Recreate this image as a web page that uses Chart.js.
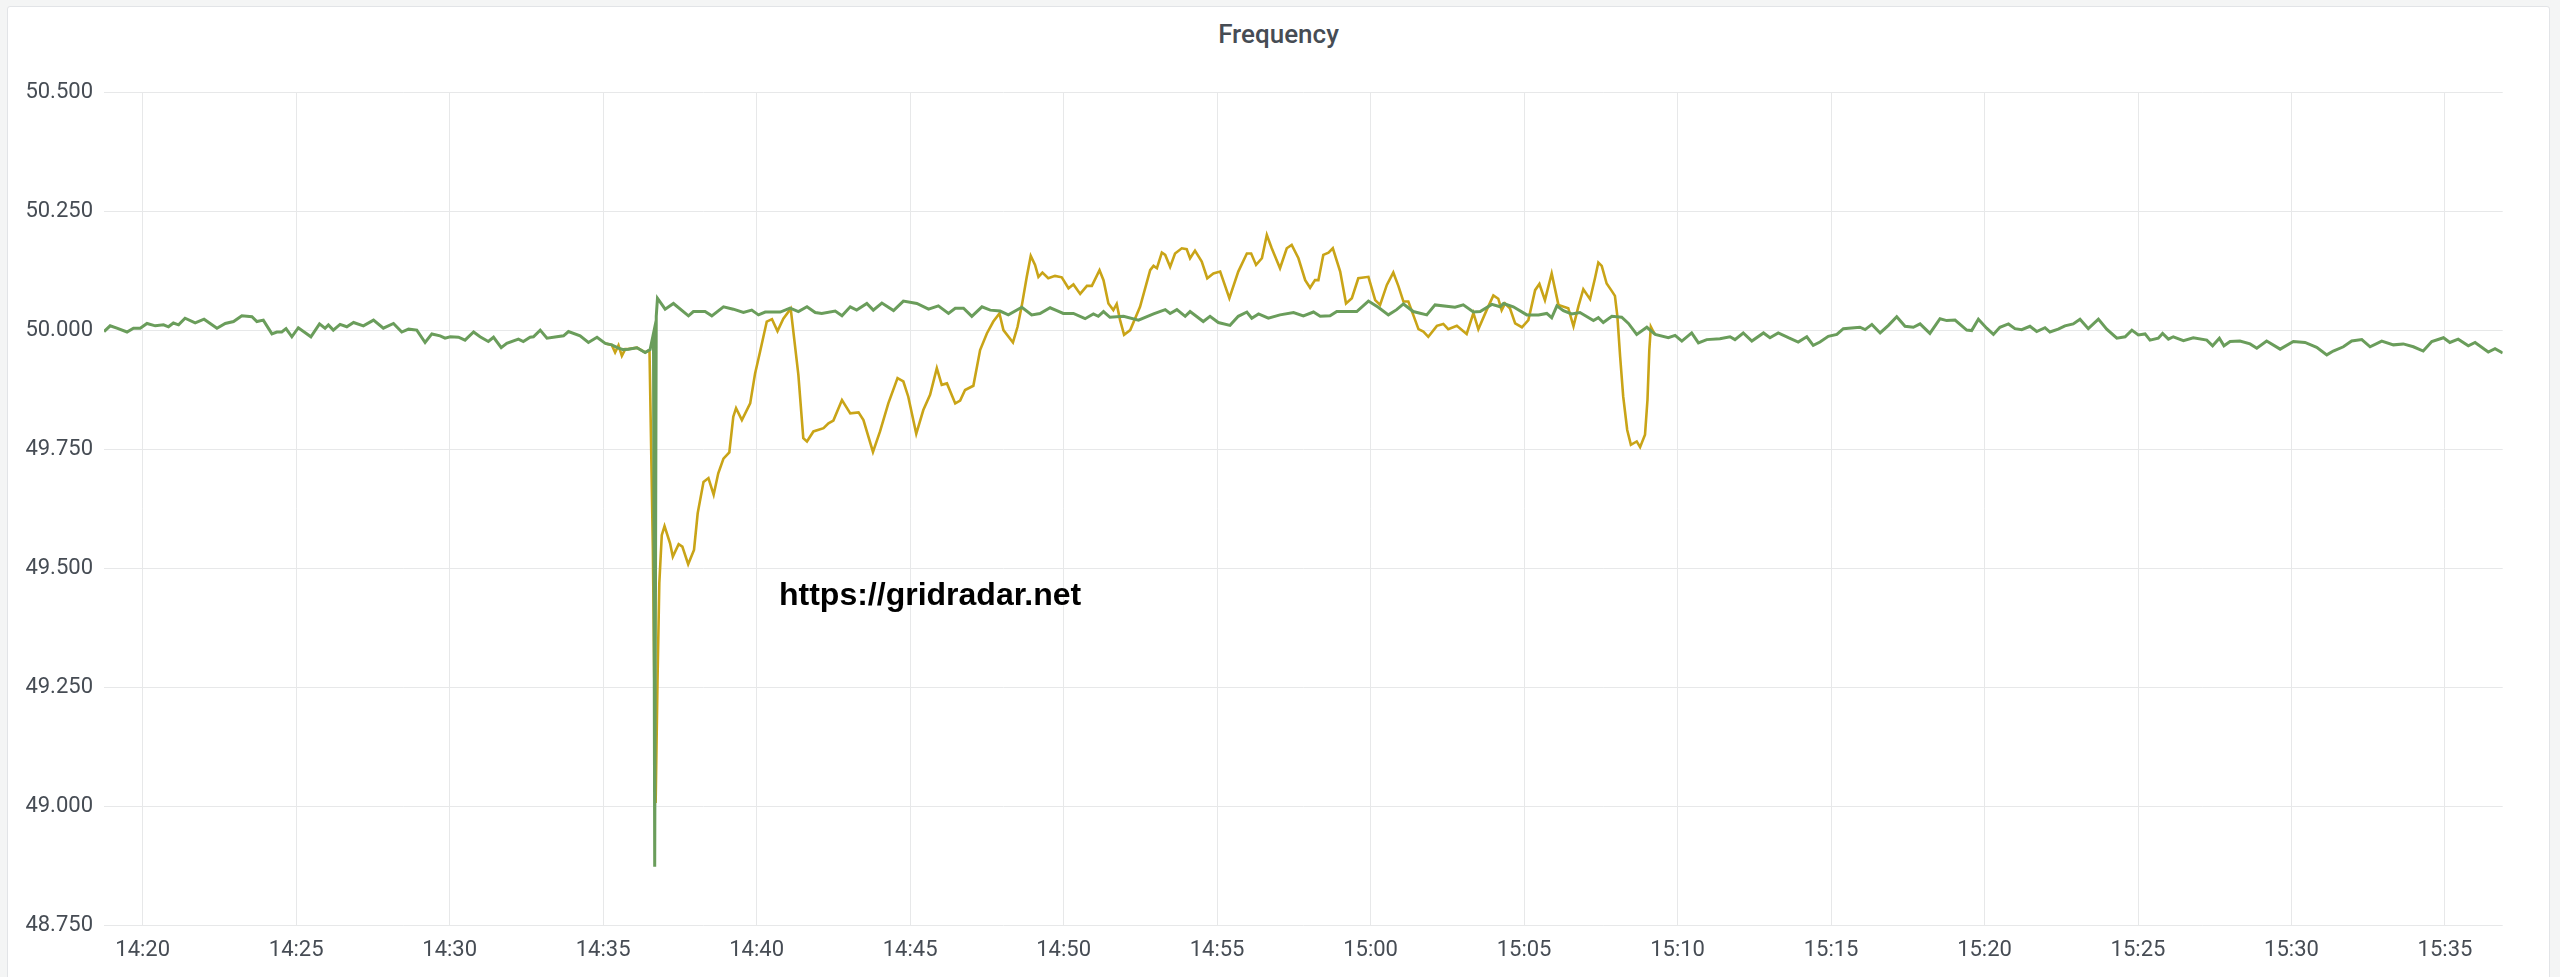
<!DOCTYPE html>
<html>
<head>
<meta charset="utf-8">
<title>Frequency</title>
<script src="https://cdn.jsdelivr.net/npm/chart.js@4.4.1/dist/chart.umd.min.js"></script>
<style>
  html, body { margin: 0; padding: 0; width: 2560px; height: 977px; overflow: hidden; background: #f4f5f5; }
  .panel { position: absolute; left: 7px; top: 6px; width: 2543px; height: 1010px; background: #fff;
           border: 1px solid #e2e4e7; border-radius: 3px; box-sizing: border-box; }
  .panel-title { position: absolute; left: 7px; width: 2543px; top: 21px; line-height: 26px; text-align: center;
                 font-family: Roboto, "Noto Sans", sans-serif; font-size: 26px; font-weight: 500; color: #464c54; }
  #wrap { position: absolute; left: 0; top: 0; width: 2560px; height: 977px; }
</style>
</head>
<body>
<div class="panel"></div>
<div class="panel-title">Frequency</div>
<div id="wrap"><canvas id="freqChart"></canvas></div>
<script>
  // time = minutes after 14:00, values in Hz
  const greenMinutes = [
    18.74, 18.94, 19.16, 19.49, 19.70, 19.92, 20.14, 20.41, 20.68, 20.84,
    21.00, 21.17, 21.38, 21.71, 22.00, 22.42, 22.69, 22.96, 23.23, 23.56,
    23.72, 23.93, 24.21, 24.37, 24.53, 24.67, 24.86, 25.07, 25.48, 25.76,
    25.94, 26.05, 26.21, 26.43, 26.65, 26.87, 27.19, 27.52, 27.84, 28.17,
    28.44, 28.66, 28.93, 29.20, 29.42, 29.69, 29.85, 30.02, 30.29, 30.50,
    30.78, 30.99, 31.26, 31.43, 31.68, 31.86, 32.24, 32.40, 32.62, 32.73,
    32.95, 33.17, 33.49, 33.71, 33.87, 34.25, 34.52, 34.80, 35.07, 35.28,
    35.50, 35.66, 35.82, 36.10, 36.37, 36.53, 36.64, 36.68, 36.73, 36.77,
    37.02, 37.29, 37.78, 37.94, 38.32, 38.54, 38.92, 39.24, 39.57, 39.84,
    40.06, 40.28, 40.77, 41.09, 41.36, 41.64, 41.91, 42.12, 42.56, 42.78,
    43.05, 43.26, 43.59, 43.80, 44.08, 44.46, 44.78, 45.22, 45.60, 45.92,
    46.25, 46.47, 46.74, 47.01, 47.34, 47.61, 47.93, 48.20, 48.64, 48.96,
    49.23, 49.56, 49.78, 49.99, 50.32, 50.70, 50.97, 51.13, 51.30, 51.51,
    51.95, 52.44, 52.93, 53.31, 53.47, 53.69, 53.96, 54.12, 54.55, 54.77,
    55.04, 55.42, 55.69, 55.97, 56.13, 56.35, 56.67, 57.05, 57.49, 57.81,
    58.14, 58.36, 58.68, 58.90, 59.55, 59.93, 60.25, 60.58, 60.85, 61.07,
    61.39, 61.83, 62.10, 62.75, 63.02, 63.35, 63.57, 63.95, 64.22, 64.33,
    64.65, 65.09, 65.47, 65.74, 65.90, 66.07, 66.28, 66.55, 66.82, 67.26,
    67.42, 67.58, 67.86, 68.18, 68.40, 68.67, 69.00, 69.27, 69.70, 69.92,
    70.14, 70.46, 70.68, 70.95, 71.38, 71.71, 71.87, 72.14, 72.42, 72.80,
    73.01, 73.28, 73.61, 73.93, 74.21, 74.42, 74.64, 74.91, 75.19, 75.40,
    75.94, 76.11, 76.33, 76.60, 76.87, 77.14, 77.41, 77.68, 77.90, 78.22,
    78.55, 78.77, 79.04, 79.42, 79.58, 79.80, 80.07, 80.29, 80.50, 80.78,
    80.99, 81.21, 81.48, 81.70, 81.97, 82.13, 82.40, 82.62, 82.89, 83.11,
    83.38, 83.71, 83.98, 84.31, 84.58, 84.80, 85.01, 85.23, 85.39, 85.66,
    85.80, 85.99, 86.15, 86.48, 86.80, 87.24, 87.43, 87.65, 87.80, 88.00,
    88.32, 88.65, 88.87, 89.19, 89.63, 90.06, 90.44, 90.82, 91.15, 91.36,
    91.69, 91.96, 92.29, 92.56, 92.94, 93.32, 93.64, 93.97, 94.29, 94.57,
    94.95, 95.16, 95.43, 95.76, 95.98, 96.41, 96.63, 96.88
  ];
  const greenHz = [
    49.998, 50.010, 50.005, 49.997, 50.005, 50.005, 50.015, 50.010, 50.012, 50.008,
    50.016, 50.012, 50.026, 50.016, 50.024, 50.005, 50.015, 50.019, 50.031, 50.029,
    50.019, 50.022, 49.993, 49.997, 49.997, 50.004, 49.987, 50.006, 49.987, 50.014,
    50.005, 50.012, 50.001, 50.013, 50.008, 50.017, 50.010, 50.022, 50.005, 50.015,
    49.997, 50.003, 50.001, 49.975, 49.993, 49.989, 49.984, 49.987, 49.986, 49.980,
    49.997, 49.987, 49.977, 49.986, 49.964, 49.973, 49.982, 49.977, 49.986, 49.987,
    50.001, 49.984, 49.987, 49.989, 49.998, 49.989, 49.975, 49.986, 49.973, 49.970,
    49.963, 49.960, 49.961, 49.964, 49.954, 49.960, 49.994, 48.873, 50.030, 50.068,
    50.045, 50.057, 50.031, 50.040, 50.040, 50.031, 50.050, 50.045, 50.038, 50.043,
    50.033, 50.039, 50.039, 50.047, 50.040, 50.050, 50.038, 50.036, 50.041, 50.031,
    50.050, 50.043, 50.057, 50.043, 50.058, 50.042, 50.062, 50.057, 50.045, 50.052,
    50.036, 50.047, 50.047, 50.030, 50.050, 50.043, 50.041, 50.033, 50.049, 50.033,
    50.036, 50.048, 50.042, 50.036, 50.036, 50.025, 50.035, 50.030, 50.040, 50.028,
    50.030, 50.022, 50.035, 50.044, 50.036, 50.044, 50.030, 50.040, 50.019, 50.030,
    50.017, 50.011, 50.030, 50.039, 50.026, 50.035, 50.026, 50.033, 50.038, 50.031,
    50.039, 50.030, 50.031, 50.040, 50.040, 50.062, 50.049, 50.033, 50.044, 50.056,
    50.040, 50.033, 50.054, 50.049, 50.054, 50.039, 50.040, 50.055, 50.050, 50.057,
    50.050, 50.033, 50.033, 50.036, 50.027, 50.052, 50.042, 50.035, 50.038, 50.021,
    50.027, 50.017, 50.030, 50.028, 50.015, 49.992, 50.007, 49.992, 49.985, 49.990,
    49.978, 49.995, 49.974, 49.981, 49.983, 49.987, 49.981, 49.995, 49.978, 49.995,
    49.985, 49.995, 49.985, 49.976, 49.987, 49.969, 49.976, 49.988, 49.992, 50.004,
    50.007, 50.002, 50.013, 49.995, 50.011, 50.029, 50.009, 50.007, 50.014, 49.994,
    50.025, 50.021, 50.022, 50.001, 50.000, 50.024, 50.005, 49.992, 50.007, 50.014,
    50.004, 50.002, 50.009, 49.998, 50.006, 49.997, 50.003, 50.010, 50.014, 50.024,
    50.004, 50.024, 50.003, 49.984, 49.987, 50.001, 49.991, 49.993, 49.980, 49.984,
    49.994, 49.982, 49.987, 49.979, 49.985, 49.980, 49.968, 49.984, 49.968, 49.977,
    49.978, 49.972, 49.963, 49.978, 49.961, 49.977, 49.975, 49.965, 49.949, 49.957,
    49.966, 49.978, 49.981, 49.966, 49.978, 49.970, 49.972, 49.966, 49.957, 49.977,
    49.985, 49.975, 49.982, 49.968, 49.975, 49.955, 49.962, 49.953
  ];

  const yellowMinutes = [
    35.07, 35.28, 35.39, 35.50, 35.61, 35.72, 35.82, 36.10, 36.37, 36.51,
    36.62, 36.71, 36.77, 36.83, 36.91, 37.00, 37.18, 37.27, 37.46, 37.58,
    37.77, 37.96, 38.08, 38.27, 38.43, 38.60, 38.75, 38.92, 39.11, 39.24,
    39.33, 39.52, 39.79, 39.95, 40.11, 40.33, 40.50, 40.68, 40.87, 41.11,
    41.36, 41.52, 41.64, 41.85, 42.18, 42.34, 42.50, 42.78, 43.05, 43.32,
    43.48, 43.79, 44.02, 44.29, 44.59, 44.78, 44.94, 45.20, 45.43, 45.65,
    45.87, 46.03, 46.20, 46.47, 46.63, 46.79, 47.06, 47.28, 47.50, 47.71,
    47.91, 48.04, 48.35, 48.50, 48.64, 48.80, 48.93, 49.07, 49.18, 49.31,
    49.50, 49.72, 49.94, 50.16, 50.32, 50.54, 50.76, 50.92, 51.17, 51.30,
    51.46, 51.62, 51.73, 51.84, 51.97, 52.17, 52.49, 52.82, 52.93, 53.04,
    53.20, 53.31, 53.47, 53.63, 53.85, 54.01, 54.12, 54.28, 54.50, 54.68,
    54.88, 55.10, 55.40, 55.69, 55.97, 56.11, 56.27, 56.46, 56.62, 56.78,
    57.05, 57.27, 57.43, 57.65, 57.87, 58.03, 58.19, 58.30, 58.46, 58.63,
    58.77, 59.01, 59.20, 59.39, 59.60, 59.93, 60.15, 60.31, 60.53, 60.74,
    60.91, 61.07, 61.23, 61.39, 61.56, 61.72, 61.88, 62.16, 62.37, 62.53,
    62.81, 63.13, 63.35, 63.51, 63.78, 64.00, 64.16, 64.27, 64.38, 64.54,
    64.71, 64.93, 65.14, 65.36, 65.50, 65.68, 65.90, 66.12, 66.44, 66.61,
    66.77, 66.93, 67.15, 67.31, 67.42, 67.53, 67.69, 67.86, 67.96, 68.04,
    68.13, 68.23, 68.36, 68.48, 68.67, 68.78, 68.94, 69.02, 69.08, 69.13,
    69.21, 69.27
  ];
  const yellowHz = [
    49.973, 49.970, 49.954, 49.969, 49.947, 49.961, 49.961, 49.964, 49.954, 49.959,
    49.540, 49.007, 49.260, 49.469, 49.570, 49.589, 49.553, 49.525, 49.551, 49.546,
    49.509, 49.539, 49.616, 49.682, 49.690, 49.655, 49.700, 49.731, 49.744, 49.819,
    49.837, 49.812, 49.847, 49.910, 49.955, 50.019, 50.024, 49.999, 50.025, 50.046,
    49.907, 49.774, 49.767, 49.788, 49.795, 49.805, 49.811, 49.854, 49.826, 49.828,
    49.812, 49.745, 49.788, 49.847, 49.900, 49.893, 49.861, 49.783, 49.833, 49.865,
    49.921, 49.886, 49.889, 49.847, 49.853, 49.875, 49.884, 49.959, 49.994, 50.019,
    50.036, 50.001, 49.975, 50.008, 50.053, 50.113, 50.157, 50.138, 50.113, 50.122,
    50.110, 50.115, 50.112, 50.089, 50.097, 50.077, 50.094, 50.094, 50.127, 50.106,
    50.057, 50.043, 50.056, 50.022, 49.991, 50.001, 50.050, 50.127, 50.136, 50.131,
    50.164, 50.159, 50.134, 50.162, 50.173, 50.171, 50.152, 50.168, 50.145, 50.110,
    50.120, 50.124, 50.068, 50.124, 50.162, 50.162, 50.138, 50.152, 50.201, 50.173,
    50.131, 50.173, 50.180, 50.152, 50.106, 50.090, 50.106, 50.106, 50.159, 50.164,
    50.173, 50.124, 50.057, 50.068, 50.110, 50.113, 50.064, 50.054, 50.096, 50.122,
    50.093, 50.061, 50.061, 50.033, 50.003, 49.998, 49.987, 50.010, 50.014, 50.003,
    50.010, 49.993, 50.037, 50.003, 50.043, 50.074, 50.067, 50.043, 50.057, 50.047,
    50.015, 50.007, 50.022, 50.085, 50.098, 50.064, 50.120, 50.054, 50.047, 50.009,
    50.051, 50.087, 50.066, 50.110, 50.143, 50.136, 50.099, 50.083, 50.073, 50.030,
    49.945, 49.861, 49.791, 49.760, 49.767, 49.755, 49.781, 49.854, 49.959, 50.008,
    49.998, 49.992
  ];

  const xTickMinutes = [20, 25, 30, 35, 40, 45, 50, 55, 60, 65, 70, 75, 80, 85, 90, 95];
  const yTickValues = [48.75, 49.0, 49.25, 49.5, 49.75, 50.0, 50.25, 50.5];
  const watermarkText = "https://gridradar.net";

  const toPoints = (xs, ys) => xs.map((x, i) => ({ x: x, y: ys[i] }));

  const minuteLabel = (v) => {
    const m = Math.round(v);
    return (14 + Math.floor(m / 60)) + ":" + String(m % 60).padStart(2, "0");
  };

  // site watermark drawn over the lines
  const watermark = {
    id: "watermark",
    afterDatasetsDraw(chart) {
      const ctx = chart.ctx;
      ctx.save();
      ctx.font = 'bold 32px "Liberation Sans", Arial, sans-serif';
      ctx.fillStyle = "#000";
      ctx.textBaseline = "alphabetic";
      ctx.fillText(watermarkText, 779, 605, 308);
      ctx.restore();
    }
  };

  const tickFont = { family: "Roboto, 'Noto Sans', sans-serif", size: 22 };
  const gridColor = "#e7e8e9";

  new Chart(document.getElementById("freqChart"), {
    type: "line",
    data: {
      datasets: [
        {
          label: "Frequency",
          data: toPoints(greenMinutes, greenHz),
          borderColor: "#6a9d5b",
          borderWidth: 3,
          pointRadius: 0,
          tension: 0,
          fill: false,
        },
        {
          label: "Frequency (local)",
          data: toPoints(yellowMinutes, yellowHz),
          borderColor: "#c9a417",
          borderWidth: 2.6,
          pointRadius: 0,
          tension: 0,
          fill: false,
        },
      ],
    },
    options: {
      responsive: true,
      maintainAspectRatio: false,
      animation: false,
      layout: { padding: { top: 92.7, right: 57.3, left: 0, bottom: 0 } },
      plugins: {
        legend: { display: false },
        tooltip: { enabled: false },
        title: { display: false },
      },
      scales: {
        x: {
          type: "linear",
          min: 18.74,
          max: 96.88,
          afterBuildTicks: (scale) => { scale.ticks = xTickMinutes.map((v) => ({ value: v })); },
          afterFit: (scale) => { scale.height = 51.7; },
          border: { display: false },
          grid: { color: gridColor, drawTicks: false },
          ticks: {
            autoSkip: false,
            maxRotation: 0,
            padding: 12,
            color: "#464c54",
            font: tickFont,
            callback: minuteLabel,
          },
        },
        y: {
          min: 48.75,
          max: 50.5,
          afterBuildTicks: (scale) => { scale.ticks = yTickValues.map((v) => ({ value: v })); },
          afterFit: (scale) => { scale.width = 104; },
          border: { display: false },
          grid: { color: gridColor, drawTicks: false },
          ticks: {
            padding: 11,
            color: "#464c54",
            font: tickFont,
            callback: (v) => Number(v).toFixed(3),
          },
        },
      },
    },
    plugins: [watermark],
  });
</script>
</body>
</html>
